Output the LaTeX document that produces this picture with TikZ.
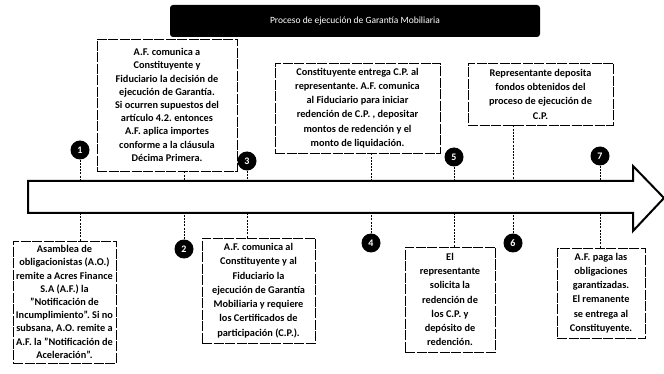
\documentclass[tikz,border=0pt]{standalone}
\usepackage{fontspec}
\setmainfont{Carlito}
\frenchspacing
\begin{document}
\begin{tikzpicture}[x=1pt,y=-1pt,
  box/.style={draw, line width=0.9pt, dash pattern=on 10pt off 1.5pt, fill=white,
    align=center, inner sep=2pt, font=\bfseries\fontsize{10.3}{14.3}\selectfont},
  tight/.style={font=\bfseries\fontsize{10.3}{13.2}\selectfont},
  num/.style={circle, fill=black, text=white, inner sep=0pt, minimum size=19pt,
    font=\bfseries\fontsize{10}{12}\selectfont},
  conn/.style={line width=0.7pt, dash pattern=on 2pt off 1.2pt},
  title/.style={fill=black, rounded corners=3pt, text=white, minimum width=370pt,
    minimum height=32pt, font=\fontsize{9.5}{11}\selectfont}]
\useasboundingbox (0,0) rectangle (664,374);
\fill[white] (0,0) rectangle (664,374);

\node[title] (ttl) at (355,21) {Proceso de ejecución de Garantía Mobiliaria};

% arrow
\node[minimum width=605pt, minimum height=32pt, inner sep=0pt] (body) at (330.5,197) {};
\draw[line width=2pt, line join=miter, fill=white]
  (28,181) -- (633,181) -- (633,166) -- (664,198) -- (633,231) -- (633,213) -- (28,213) -- cycle;

% boxes
\node[box, tight, minimum width=103pt, minimum height=122pt] (b1) at (64.5,302)
 {Asamblea de\\obligacionistas (A.O.)\\remite a Acres Finance\\S.A (A.F.) la\\"Notificación de\\Incumplimiento". Si no\\subsana, A.O. remite a\\A.F. la "Notificación de\\Aceleración".};
\node[box, tight, minimum width=140pt, minimum height=132pt] (b2) at (167,105)
 {A.F. comunica a\\Constituyente y\\Fiduciario la decisión de\\ejecución de Garantía.\\Si ocurren supuestos del\\artículo 4.2. entonces\\A.F. aplica importes\\conforme a la cláusula\\Décima Primera.};
\node[box, minimum width=113pt, minimum height=105pt] (b3) at (258.5,290.5)
 {A.F. comunica al\\Constituyente y al\\Fiduciario la\\ejecución de Garantía\\Mobiliaria y requiere\\los Certificados de\\participación (C.P.).};
\node[box, minimum width=165pt, minimum height=90pt] (b4) at (357.5,108)
 {Constituyente entrega C.P. al\\representante. A.F. comunica\\al Fiduciario para iniciar\\redención de C.P. , depositar\\montos de redención y el\\monto de liquidación.};
\node[box, minimum width=90pt, minimum height=105pt] (b5) at (450,299.5)
 {El\\representante\\solicita la\\redención de\\los C.P. y\\depósito de\\redención.};
\node[box, minimum width=145pt, minimum height=62pt] (b6) at (540.5,94)
 {Representante deposita\\fondos obtenidos del\\proceso de ejecución de\\C.P.};
\node[box, minimum width=88pt, minimum height=90pt] (b7) at (601,293)
 {A.F. paga las\\obligaciones\\garantizadas.\\El remanente\\se entrega al\\Constituyente.};

% numbered circles
\node[num] (c1) at (80,150) {1};
\node[num] (c2) at (184,249) {2};
\node[num] (c3) at (247,161) {3};
\node[num] (c4) at (371,243) {4};
\node[num] (c5) at (454,157) {5};
\node[num] (c6) at (513,243) {6};
\node[num] (c7) at (600,156) {7};

% connectors: circle to arrow
\draw[conn] (c1) -- (c1 |- body.north);
\draw[conn] (c2) -- (c2 |- body.south);
\draw[conn] (c3) -- (c3 |- body.north);
\draw[conn] (c4) -- (c4 |- body.south);
\draw[conn] (c5) -- (c5 |- body.north);
\draw[conn] (c6) -- (c6 |- body.south);
\draw[conn] (c7) -- (c7 |- body.north);
% connectors: box to arrow
\draw[conn] (c1 |- b1.north) -- (c1 |- body.south);
\draw[conn] (c2 |- b2.south) -- (c2 |- body.north);
\draw[conn] (c3 |- b3.north) -- (c3 |- body.south);
\draw[conn] (c4 |- b4.south) -- (c4 |- body.north);
\draw[conn] (c5 |- b5.north) -- (c5 |- body.south);
\draw[conn] (c6 |- b6.south) -- (c6 |- body.north);
\draw[conn] (c7 |- b7.north) -- (c7 |- body.south);
\end{tikzpicture}
\end{document}
